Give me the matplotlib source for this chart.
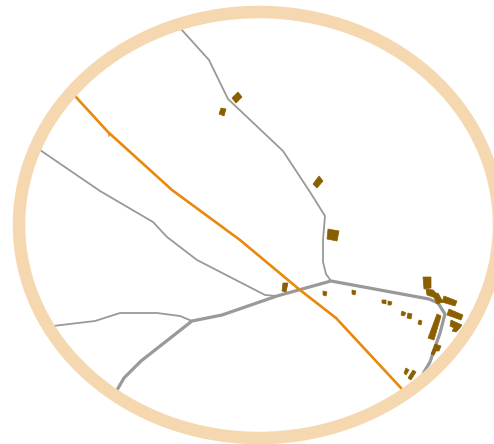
import matplotlib
matplotlib.use("Agg")
import matplotlib.pyplot as plt
from matplotlib.patches import Ellipse, Polygon

RING = "#f5d7b0"
ROAD = "#999999"
RAIL = "#e8890c"
BLD = "#8a5f00"

rail_x = [75, 108, 172, 240, 300, 336, 401]
rail_y = [96, 132, 190, 240, 290, 318, 388]
rail_stub_x = [108.5, 109]
rail_stub_y = [132, 136]

road_n_x = [181, 209, 228, 283, 310, 325, 323, 323, 326, 331]
road_n_y = [29, 60, 99, 151, 192, 216, 240, 262, 274, 281]
road_w_x = [40, 100, 153, 167, 197, 265, 277]
road_w_y = [150, 191, 222, 237, 260, 295, 296]
road_sw_x = [53, 95, 120, 157, 180, 192]
road_sw_y = [326, 321, 313, 313, 316, 321]

main_x = [117, 124, 141, 192, 222, 277, 331, 429, 438, 445, 440, 430, 424]
main_y = [390, 378, 361, 321, 315, 296, 281, 299, 303, 314, 333, 362, 372]

buildings = [
    [(232, 98), (238, 92), (242, 97), (236, 103)],
    [(221, 108), (226, 109), (224, 116), (219, 114)],
    [(313, 184), (319, 176), (323, 181), (317, 188)],
    [(328, 229), (339, 231), (337, 241), (327, 239)],
    [(283, 283), (288, 283), (286, 292), (282, 291)],
    [(323, 291), (327, 292), (326, 296), (323, 295)],
    [(352, 290), (356, 291), (355, 295), (352, 294)],
    [(382, 300), (386, 300), (386, 304), (382, 303)],
    [(388, 301), (392, 302), (391, 305), (388, 305)],
    [(402, 311), (406, 313), (404, 316), (401, 315)],
    [(408, 313), (412, 314), (411, 319), (407, 318)],
    [(419, 320), (422, 321), (421, 325), (418, 324)],
    [(423, 277), (431, 277), (431, 288), (424, 289)],
    [(426, 289), (433, 290), (437, 294), (436, 298), (427, 295)],
    [(433, 295), (438, 293), (443, 302), (437, 304)],
    [(444, 296), (457, 301), (455, 306), (442, 302)],
    [(449, 309), (463, 315), (461, 320), (447, 315)],
    [(451, 320), (462, 325), (459, 329), (456, 332), (452, 331), (454, 328), (450, 326)],
    [(437, 314), (441, 316), (434, 340), (428, 338)],
    [(435, 344), (441, 346), (439, 351), (436, 351), (434, 355), (431, 354)],
    [(406, 368), (409, 370), (406, 375), (404, 373)],
    [(413, 370), (416, 372), (411, 380), (408, 378)],
]

fig = plt.figure(figsize=(4.94, 4.44), dpi=100)
ax = fig.add_axes([0, 0, 1, 1])
ax.set_xlim(0, 494)
ax.set_ylim(444, 0)
ax.axis("off")

for xs, ys in [(road_n_x, road_n_y), (road_w_x, road_w_y), (road_sw_x, road_sw_y)]:
    ax.plot(xs, ys, color=ROAD, lw=1.3, solid_joinstyle="round", zorder=2)
ax.plot(main_x, main_y, color=ROAD, lw=2.3, solid_joinstyle="round", zorder=2)
ax.plot(rail_x, rail_y, color=RAIL, lw=1.9, solid_joinstyle="round", zorder=3)
ax.plot(rail_stub_x, rail_stub_y, color=RAIL, lw=0.9, zorder=3)
for pts in buildings:
    ax.add_patch(Polygon(pts, closed=True, fc=BLD, ec=BLD, lw=0.5, zorder=4))

ax.add_patch(Ellipse((259, 225), 480, 426, fc="none", ec=RING, lw=9.0, zorder=5))

fig.savefig("out.png", dpi=100)
